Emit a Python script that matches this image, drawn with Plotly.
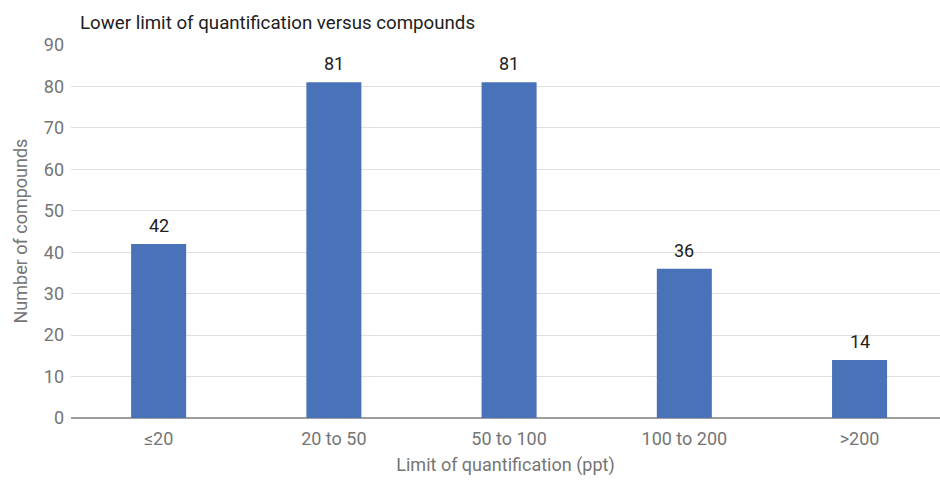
import plotly.graph_objects as go

categories = ["≤20", "20 to 50", "50 to 100", "100 to 200", ">200"]
counts = [42, 81, 81, 36, 14]
y_ticks = [0, 10, 20, 30, 40, 50, 60, 70, 80, 90]

fig = go.Figure(
    go.Bar(
        x=categories,
        y=counts,
        width=0.314,
        marker=dict(color="#4a72b8", line=dict(width=0)),
        hoverinfo="x+y",
    )
)

# Value labels sitting just above each bar
for cat, val in zip(categories, counts):
    fig.add_annotation(
        x=cat,
        y=val,
        text=str(val),
        showarrow=False,
        yanchor="bottom",
        yshift=6,
        font=dict(family="Roboto", size=18, color="#212121"),
    )

# Vertical axis title, placed close to the tick labels
fig.add_annotation(
    text="Number of compounds",
    xref="paper",
    yref="paper",
    x=(20 - 71) / 869,
    y=0.5,
    xanchor="center",
    yanchor="middle",
    textangle=-90,
    showarrow=False,
    font=dict(family="Roboto", size=18, color="#757575"),
)

fig.update_layout(
    width=940,
    height=480,
    margin=dict(l=71, r=0, t=45, b=62),
    paper_bgcolor="white",
    plot_bgcolor="white",
    font=dict(family="Roboto", color="#757575"),
    showlegend=False,
    title=dict(
        text="Lower limit of quantification versus compounds",
        x=80 / 940,
        xanchor="left",
        y=1 - 22 / 480,
        yanchor="middle",
        font=dict(family="Roboto", size=18.7, color="#212121"),
    ),
    xaxis=dict(
        type="category",
        range=[-0.5, 4.459],
        showgrid=False,
        showline=False,
        ticks="",
        ticklabelstandoff=8,
        tickfont=dict(size=18, color="#757575"),
        title=dict(text="Limit of quantification (ppt)", font=dict(size=18, color="#757575"), standoff=10),
    ),
    yaxis=dict(
        range=[0, 90],
        tickvals=y_ticks,
        showgrid=True,
        gridcolor="#e0e0e0",
        gridwidth=1,
        zeroline=True,
        zerolinecolor="#9e9e9e",
        zerolinewidth=2,
        ticks="",
        ticklabelstandoff=6,
        tickfont=dict(size=18, color="#757575"),
    ),
)

fig.write_html("out.html")
